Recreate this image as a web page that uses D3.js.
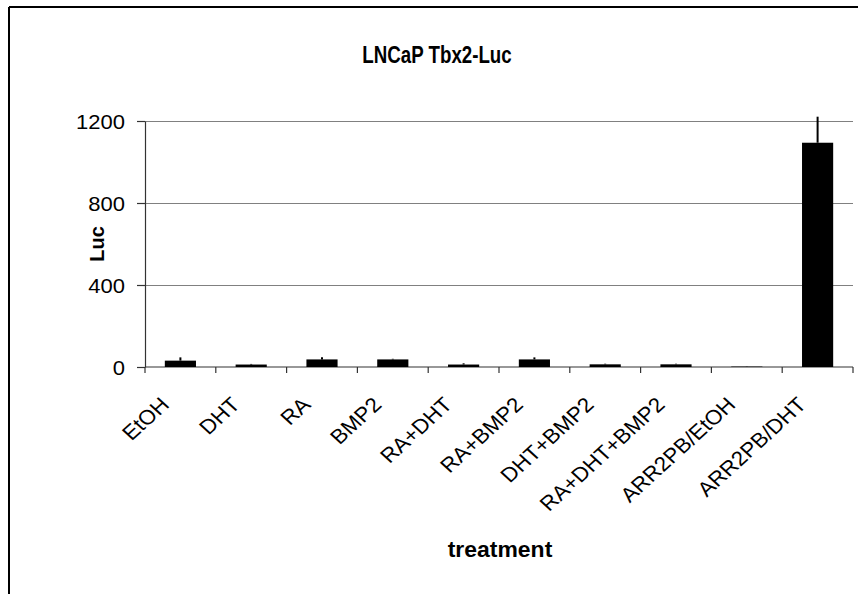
<!DOCTYPE html>
<html>
<head>
<meta charset="utf-8">
<script src="https://cdn.jsdelivr.net/npm/d3@7"></script>
<style>
  body { margin: 0; background: #fff; }
  text { font-family: Arial, "Liberation Sans", sans-serif; fill: #000; }
</style>
</head>
<body>
<div id="chart"></div>
<script>
var treatments = ["EtOH", "DHT", "RA", "BMP2", "RA+DHT", "RA+BMP2", "DHT+BMP2", "RA+DHT+BMP2", "ARR2PB/EtOH", "ARR2PB/DHT"];
var lucValues = [31, 12, 37, 37, 12, 37, 13, 13, 2, 1094];
var lucErrors = [16, 3, 10, 3, 6, 10, 3, 3, 1, 127];
var yTicks = [0, 400, 800, 1200];

var width = 858, height = 594;
var margin = { top: 121, right: 5, bottom: 227, left: 145 };

var svg = d3.select("#chart").append("svg")
  .attr("width", width)
  .attr("height", height);

// chart frame (only top and left visible in the crop)
svg.append("line").attr("x1", 9).attr("y1", 7).attr("x2", width).attr("y2", 7)
  .attr("stroke", "#000").attr("stroke-width", 2);
svg.append("line").attr("x1", 9).attr("y1", 7).attr("x2", 9).attr("y2", height)
  .attr("stroke", "#000").attr("stroke-width", 2);

var data = treatments.map(function (t, i) {
  return { name: t, value: lucValues[i], err: lucErrors[i] };
});

var x = d3.scaleBand()
  .domain(treatments)
  .range([margin.left, width - margin.right])
  .padding(0);

var y = d3.scaleLinear()
  .domain([0, 1200])
  .range([height - margin.bottom, margin.top]);

// gridlines
svg.append("g")
  .selectAll("line")
  .data(yTicks.filter(function (d) { return d > 0; }))
  .join("line")
  .attr("x1", margin.left)
  .attr("x2", width - margin.right)
  .attr("y1", (d) => y(d) + 0.5)
  .attr("y2", (d) => y(d) + 0.5)
  .attr("stroke", "#808080")
  .attr("stroke-width", 1.2);

// y axis
var yAxis = svg.append("g")
  .attr("transform", `translate(${margin.left},0)`)
  .call(d3.axisLeft(y).tickValues(yTicks).tickFormat(d3.format("d")).tickSize(8).tickSizeOuter(0));
yAxis.select(".domain").attr("stroke", "#333").attr("stroke-width", 1.2);
yAxis.selectAll(".tick line").attr("stroke", "#333").attr("stroke-width", 1.2);
yAxis.selectAll(".tick text")
  .attr("font-size", 20)
  .attr("font-family", "Arial, 'Liberation Sans', sans-serif")
  .attr("fill", "#000")
  .attr("dy", "0.36em")
  .attr("x", null)
  .attr("transform", "translate(-20,0) scale(1.1,1)");

// x axis line and ticks at category boundaries
var xAxisY = y(0);
svg.append("line")
  .attr("x1", margin.left).attr("x2", width - margin.right)
  .attr("y1", xAxisY).attr("y2", xAxisY)
  .attr("stroke", "#333").attr("stroke-width", 1.2);

var bounds = treatments.map((t) => x(t)).concat([x(treatments[treatments.length - 1]) + x.bandwidth()]);
svg.append("g")
  .selectAll("line")
  .data(bounds)
  .join("line")
  .attr("x1", (d) => d).attr("x2", (d) => d)
  .attr("y1", xAxisY).attr("y2", xAxisY + 6)
  .attr("stroke", "#333").attr("stroke-width", 1.2);

// bars
var barW = x.bandwidth() * 0.44;
svg.append("g")
  .attr("fill", "#000")
  .selectAll("rect")
  .data(data)
  .join("rect")
  .attr("x", (d) => x(d.name) + (x.bandwidth() - barW) / 2)
  .attr("y", (d) => y(d.value))
  .attr("width", barW)
  .attr("height", (d) => y(0) - y(d.value));

// error bars (plus direction only)
svg.append("g")
  .selectAll("line")
  .data(data)
  .join("line")
  .attr("x1", (d) => x(d.name) + x.bandwidth() / 2)
  .attr("x2", (d) => x(d.name) + x.bandwidth() / 2)
  .attr("y1", (d) => y(d.value))
  .attr("y2", (d) => y(d.value + d.err))
  .attr("stroke", "#000")
  .attr("stroke-width", 2);

// category labels, rotated
svg.append("g")
  .selectAll("text")
  .data(treatments)
  .join("text")
  .attr("transform", (d) => `translate(${x(d) + x.bandwidth() / 2 - 10},${xAxisY + 39}) scale(1.1,1) rotate(-45)`)
  .attr("text-anchor", "end")
  .attr("font-size", 20.5)
  .text((d) => d);

// title
svg.append("text")
  .attr("transform", "translate(437,63) scale(0.78,1)")
  .attr("text-anchor", "middle")
  .attr("font-size", 24)
  .attr("font-weight", "bold")
  .text("LNCaP Tbx2-Luc");

// y label
svg.append("text")
  .attr("transform", "translate(104,244) rotate(-90)")
  .attr("text-anchor", "middle")
  .attr("font-size", 20)
  .attr("font-weight", "bold")
  .text("Luc");

// x label
svg.append("text")
  .attr("transform", "translate(500,557) scale(1.02,1)")
  .attr("text-anchor", "middle")
  .attr("font-size", 22.5)
  .attr("font-weight", "bold")
  .text("treatment");
</script>
</body>
</html>
